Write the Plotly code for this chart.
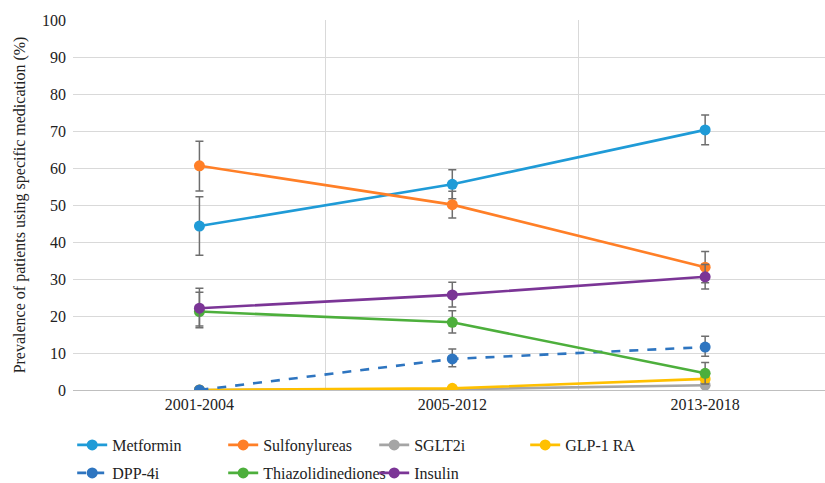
import plotly.graph_objects as go

periods = ["2001-2004", "2005-2012", "2013-2018"]

metformin = [44.3, 55.6, 70.3]
metformin_hi = [7.9, 3.9, 4.0]
metformin_lo = [7.9, 3.9, 4.0]

sulfonylureas = [60.6, 50.1, 33.2]
sulfonylureas_hi = [6.6, 3.6, 4.2]
sulfonylureas_lo = [6.8, 3.6, 4.2]

sglt2i = [0.0, 0.2, 1.3]
glp1ra = [0.0, 0.45, 3.0]

dpp4i = [0.0, 8.4, 11.6]
dpp4i_hi = [0.0, 2.7, 2.9]
dpp4i_lo = [0.0, 2.1, 2.5]

thiazolidinediones = [21.2, 18.3, 4.5]
thiazolidinediones_hi = [5.2, 3.1, 2.9]
thiazolidinediones_lo = [3.9, 2.9, 2.9]

insulin = [22.1, 25.7, 30.6]
insulin_hi = [5.4, 3.4, 3.3]
insulin_lo = [5.3, 3.3, 3.3]

FONT = "Liberation Serif"
TEXT = "#222222"
ERR_COLOR = "#6E6E6E"

series = [
    ("Metformin", metformin, metformin_hi, metformin_lo, "#1F9BD7", "solid", "legend"),
    ("Sulfonylureas", sulfonylureas, sulfonylureas_hi, sulfonylureas_lo, "#FF7F27", "solid", "legend"),
    ("SGLT2i", sglt2i, None, None, "#A5A5A5", "solid", "legend"),
    ("GLP-1 RA", glp1ra, None, None, "#FFC000", "solid", "legend"),
    ("DPP-4i", dpp4i, dpp4i_hi, dpp4i_lo, "#2E75C0", "dash", "legend2"),
    ("Thiazolidinediones", thiazolidinediones, thiazolidinediones_hi, thiazolidinediones_lo, "#4DAF3C", "solid", "legend2"),
    ("Insulin", insulin, insulin_hi, insulin_lo, "#7B3596", "solid", "legend2"),
]

fig = go.Figure()
for name, vals, hi, lo, color, dash, leg in series:
    err = None
    if hi is not None:
        err = dict(type="data", symmetric=False, array=hi, arrayminus=lo,
                   color=ERR_COLOR, thickness=1.5, width=4)
    fig.add_trace(go.Scatter(
        x=periods, y=vals, name=name, mode="lines+markers",
        line=dict(color=color, width=2.6, dash=dash),
        marker=dict(color=color, size=11),
        error_y=err, legend=leg,
    ))

legend_common = dict(
    orientation="h", xanchor="left", yanchor="middle",
    xref="container", yref="container",
    entrywidth=106, entrywidthmode="pixels",
    font=dict(family=FONT, size=16, color=TEXT),
    bgcolor="rgba(0,0,0,0)", itemwidth=30, tracegroupgap=0,
)

fig.update_layout(
    width=825, height=483,
    margin=dict(l=72.5, r=0, t=20, b=93, autoexpand=False),
    paper_bgcolor="white", plot_bgcolor="white",
    font=dict(family=FONT, size=16, color=TEXT),
    showlegend=True,
    legend=dict(x=0.0875, y=1 - 445 / 483, **legend_common),
    legend2=dict(x=0.0875, y=1 - 473 / 483, **legend_common),
    xaxis=dict(
        type="category", range=[-0.5, 2.474],
        tickson="boundaries", ticks="", showgrid=True,
        gridcolor="#D9D9D9", gridwidth=1,
        showline=True, linecolor="#BFBFBF", linewidth=1,
        tickfont=dict(family=FONT, size=16, color=TEXT),
    ),
    yaxis=dict(
        range=[0, 100], dtick=10, showgrid=True,
        gridcolor="#D9D9D9", gridwidth=1, zeroline=False,
        showline=False, ticks="", ticklabelstandoff=6,
        tickfont=dict(family=FONT, size=16, color=TEXT),
        title=dict(text="Prevalence of patients using specific medication (%)",
                   font=dict(family=FONT, size=16, color=TEXT), standoff=12),
    ),
)

fig.write_html("out.html")
